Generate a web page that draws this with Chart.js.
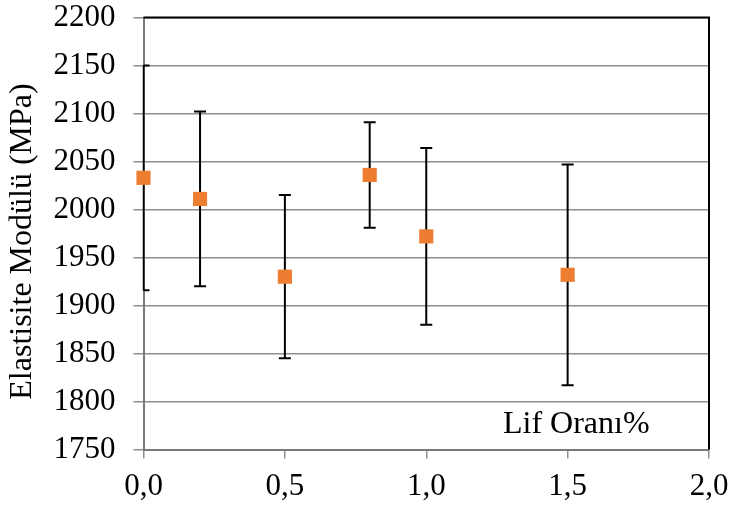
<!DOCTYPE html>
<html>
<head>
<meta charset="utf-8">
<script src="https://cdn.jsdelivr.net/npm/chart.js@4.4.1/dist/chart.umd.min.js"></script>
<style>
  html, body { margin: 0; padding: 0; background: #fff; }
  #wrap { width: 729px; height: 506px; }
</style>
</head>
<body>
<div id="wrap"><canvas id="modulusChart" width="729" height="506"></canvas></div>
<script>
// fibre ratio (%) and elastic modulus (MPa) with std. deviation
const fiberRatio = [0.0, 0.2, 0.5, 0.8, 1.0, 1.5];
const modulus = [2033, 2011, 1930, 2036, 1972, 1932];
const modulusErr = [117, 91, 85, 55, 92, 115];
const xTickLabels = ["0,0", "0,5", "1,0", "1,5", "2,0"];

const serif = "'Liberation Serif', 'Times New Roman', serif";
const gridGray = "#8e8e8e";

// vertical error bars, drawn behind the markers
const errorBars = {
  id: "errorBars",
  beforeDatasetsDraw(chart) {
    const { ctx, chartArea, scales } = chart;
    ctx.save();
    ctx.beginPath();
    ctx.rect(chartArea.left - 1, chartArea.top, chartArea.right - chartArea.left + 1, chartArea.bottom - chartArea.top);
    ctx.clip();
    ctx.strokeStyle = "#000";
    ctx.lineWidth = 2;
    fiberRatio.forEach((x, i) => {
      const px = scales.x.getPixelForValue(x);
      const top = scales.y.getPixelForValue(modulus[i] + modulusErr[i]);
      const bot = scales.y.getPixelForValue(modulus[i] - modulusErr[i]);
      const capL = Math.max(px - 6, chartArea.left);
      ctx.beginPath();
      ctx.moveTo(px, top);
      ctx.lineTo(px, bot);
      ctx.moveTo(capL, top);
      ctx.lineTo(px + 6, top);
      ctx.moveTo(capL, bot);
      ctx.lineTo(px + 6, bot);
      ctx.stroke();
    });
    ctx.restore();
  },
};

// black frame on top/right, axis titles
const frameAndTitles = {
  id: "frameAndTitles",
  afterDraw(chart) {
    const { ctx, chartArea } = chart;
    ctx.save();
    ctx.strokeStyle = "#000";
    ctx.lineWidth = 2;
    ctx.beginPath();
    ctx.moveTo(chartArea.left, chartArea.top);
    ctx.lineTo(chartArea.right, chartArea.top);
    ctx.lineTo(chartArea.right, chartArea.bottom);
    ctx.stroke();

    ctx.fillStyle = "#000";
    ctx.font = "32px " + serif;
    ctx.textAlign = "left";
    ctx.textBaseline = "alphabetic";
    ctx.fillText("Lif Oranı%", chartArea.right - 206, chartArea.bottom - 17);

    ctx.translate(23, (chartArea.top + chartArea.bottom) / 2 + 8);
    ctx.rotate(-Math.PI / 2);
    ctx.textAlign = "center";
    ctx.textBaseline = "middle";
    ctx.fillText("Elastisite Modülü (MPa)", 0, 0);
    ctx.restore();
  },
};

new Chart(document.getElementById("modulusChart"), {
  type: "scatter",
  data: {
    datasets: [
      {
        label: "Elastisite Modülü",
        data: fiberRatio.map((x, i) => ({ x: x, y: modulus[i] })),
        pointStyle: "rect",
        pointRadius: 10,
        pointHoverRadius: 10,
        backgroundColor: "#ED7D31",
        borderColor: "#ED7D31",
        borderWidth: 0,
        clip: false,
      },
    ],
  },
  options: {
    responsive: false,
    animation: false,
    layout: { padding: { top: 17.5, right: 20, bottom: 0, left: 0 } },
    plugins: {
      legend: { display: false },
      tooltip: { enabled: false },
    },
    scales: {
      x: {
        type: "linear",
        min: 0,
        max: 2,
        afterFit(scale) {
          scale.height = 56.5;
          scale.paddingLeft = 0;
          scale.paddingRight = 0;
        },
        ticks: {
          stepSize: 0.5,
          color: "#000",
          padding: 10,
          maxRotation: 0,
          font: { family: serif, size: 31 },
          callback: (v, i) => xTickLabels[i],
        },
        grid: {
          drawOnChartArea: false,
          drawTicks: true,
          tickLength: 9,
          tickColor: gridGray,
          lineWidth: 1.5,
        },
        border: { color: "#7a7a7a", width: 2 },
      },
      y: {
        min: 1750,
        max: 2200,
        afterFit(scale) {
          scale.width = 143.5;
          scale.paddingTop = 0;
          scale.paddingBottom = 0;
        },
        ticks: {
          stepSize: 50,
          color: "#000",
          padding: 18,
          font: { family: serif, size: 31 },
          callback: (v) => String(v),
        },
        grid: {
          color: gridGray,
          lineWidth: 1.5,
          tickLength: 10,
        },
        border: { color: "#7a7a7a", width: 2 },
      },
    },
  },
  plugins: [errorBars, frameAndTitles],
});
</script>
</body>
</html>
